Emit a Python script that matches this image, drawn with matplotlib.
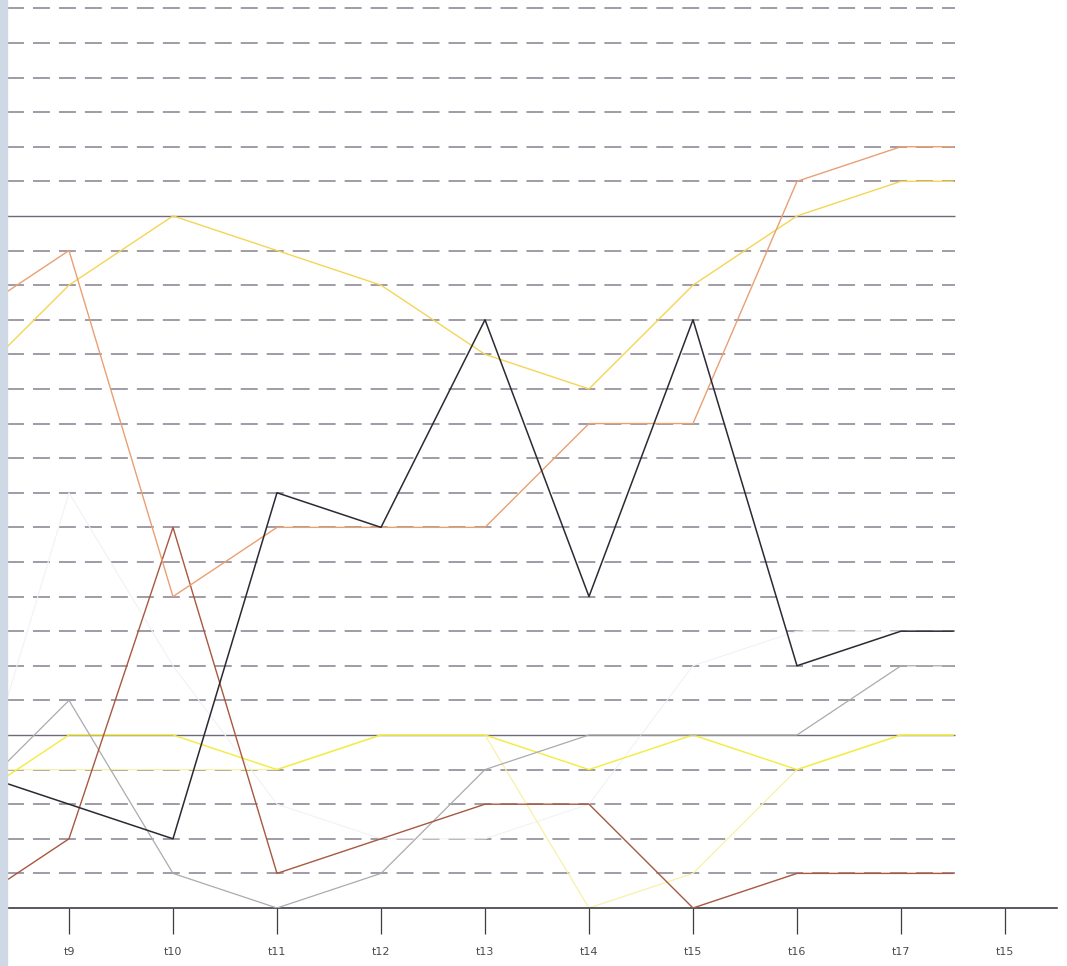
import matplotlib
matplotlib.use('Agg')
import matplotlib.pyplot as plt
from matplotlib.patches import Rectangle

plt.rcParams['lines.scale_dashes'] = False

# time steps (8 and 17.5 are the cut-off ends of the lines)
steps = [8, 9, 10, 11, 12, 13, 14, 15, 16, 17, 17.5]
tick_pos = [9, 10, 11, 12, 13, 14, 15, 16, 17, 18]
tick_labels = ['t9', 't10', 't11', 't12', 't13', 't14', 't15', 't16', 't17', 't15']

# series values
orange = [17, 19, 9, 11, 11, 11, 14, 14, 21, 22, 22]
gold = [15, 18, 20, 19, 18, 16, 15, 18, 20, 21, 21]
black = [4, 3, 2, 12, 11, 17, 9, 17, 7, 8, 8]
brown = [0, 2, 11, 1, 2, 3, 3, 0, 1, 1, 1]
gray = [3, 6, 1, 0, 1, 4, 5, 5, 5, 7, 7]
yellow = [3, 5, 5, 4, 5, 5, 4, 5, 4, 5, 5]
pale_yellow = [4, 4, 4, 4, 5, 5, 0, 1, 4, 5, 5]
faint = [2, 12, 7, 3, 2, 2, 3, 7, 8, 8, 8]

dashed_levels = [l for l in range(1, 27) if l not in (5, 20)]
solid_levels = [5, 20]

fig = plt.figure(figsize=(10.67, 9.66), dpi=100)
ax = fig.add_axes([7 / 1067, 58 / 966, 1050 / 1067, 908 / 966])
ax.set_xlim(8.404, 18.5)
ax.set_ylim(0, 26.24)

# grid
ax.hlines(dashed_levels, 8.404, 17.52, colors='#86808e', linewidth=1.1,
          linestyles=[(0, (12.2, 6.5))], zorder=1)
ax.hlines(solid_levels, 8.404, 17.52, colors='#706a78', linewidth=1.0, zorder=1)

# lines
ax.plot(steps, faint, color='#f2f2f5', lw=0.8, zorder=2)
ax.plot(steps, pale_yellow, color='#f7f2a8', lw=0.9, zorder=2)
ax.plot(steps, yellow, color='#f3ec3c', lw=1.0, zorder=3)
ax.plot(steps, gray, color='#ababab', lw=0.9, zorder=3)
ax.plot(steps, brown, color='#a9573f', lw=1.0, zorder=4)
ax.plot(steps, gold, color='#f5d555', lw=1.0, zorder=4)
ax.plot(steps, orange, color='#e9a072', lw=1.0, zorder=4)
ax.plot(steps, black, color='#2b2a33', lw=1.1, zorder=5)

for s in ['top', 'right', 'left']:
    ax.spines[s].set_visible(False)
ax.spines['bottom'].set_color('#3c3c44')
ax.spines['bottom'].set_linewidth(1.2)
ax.set_yticks([])
ax.set_xticks(tick_pos)
ax.set_xticklabels(tick_labels)
ax.tick_params(axis='x', direction='out', length=19, width=0.9, color='#3c3c44',
               pad=9, labelsize=8, labelcolor='#4a4a4a')

# scanned page edge on the left
fig.patches.append(Rectangle((0, 0), 7 / 1067, 1, transform=fig.transFigure,
                             color='#cfd9e5', zorder=10))

fig.savefig('out.png', dpi=100)
